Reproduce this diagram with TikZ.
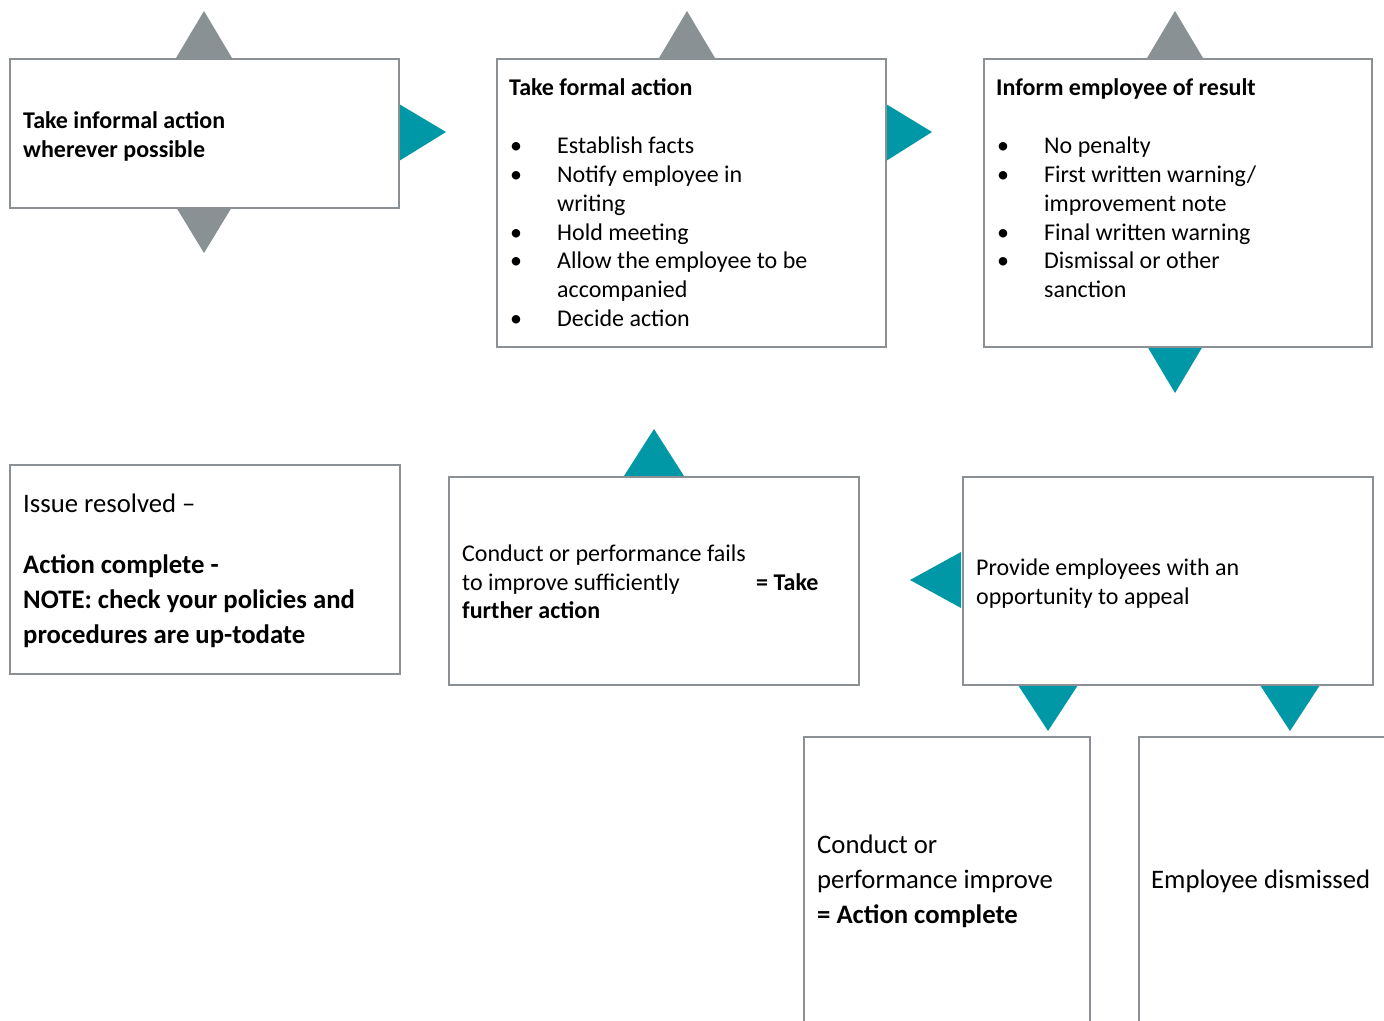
\documentclass[tikz,border=0pt]{standalone}
\usepackage{fontspec}
\setmainfont{Carlito}
\usetikzlibrary{calc}
\definecolor{boxgray}{RGB}{138,144,148}
\definecolor{trigray}{RGB}{137,145,148}
\definecolor{myteal}{RGB}{0,151,167}
\begin{document}
\begin{tikzpicture}[x=1pt,y=-1pt,
  box/.style={draw=boxgray, line width=1.6pt, fill=white, rectangle, inner sep=0pt, anchor=north west},
  txt/.style={anchor=base west, inner sep=0pt, font=\fontsize{24}{29}\selectfont},
  btxt/.style={txt, font=\fontsize{24}{29}\selectfont\bfseries},
  ltxt/.style={anchor=base west, inner sep=0pt, font=\fontsize{26.7}{35}\selectfont},
  lbtxt/.style={ltxt, font=\fontsize{26.7}{35}\selectfont\bfseries},
  gtri/.style={fill=trigray},
  ttri/.style={fill=myteal}]
\useasboundingbox (0,0) rectangle (1384,1020);
\clip (0,0) rectangle (1384,1020);
% triangles
\fill[gtri] (176,58) -- (232,58) -- (204,11) -- cycle;
\fill[gtri] (176,207) -- (232,207) -- (204,253) -- cycle;
\fill[ttri] (399,104) -- (399,161) -- (446,132) -- cycle;
\fill[gtri] (659,58) -- (715,58) -- (687,11) -- cycle;
\fill[ttri] (886,104) -- (886,161) -- (932,132) -- cycle;
\fill[gtri] (1147,58) -- (1203,58) -- (1175,11) -- cycle;
\fill[ttri] (1147,346) -- (1203,346) -- (1175,393) -- cycle;
\fill[ttri] (624,476) -- (684,476) -- (654,429) -- cycle;
\fill[ttri] (961,552) -- (961,608) -- (910,580) -- cycle;
\fill[ttri] (1018,685) -- (1078,685) -- (1048,731) -- cycle;
\fill[ttri] (1260,685) -- (1320,685) -- (1290,731) -- cycle;
% boxes
\node[box, minimum width=389pt, minimum height=149pt] (b1) at (9,58) {};
\node[box, minimum width=389pt, minimum height=288pt] (b2) at (496,58) {};
\node[box, minimum width=388pt, minimum height=288pt] (b3) at (983,58) {};
\node[box, minimum width=390pt, minimum height=209pt] (b4) at (9,464) {};
\node[box, minimum width=410pt, minimum height=208pt] (b5) at (448,476) {};
\node[box, minimum width=410pt, minimum height=208pt] (b6) at (962,476) {};
\node[box, minimum width=286pt, minimum height=320pt] (b7) at (803,736) {};
\node[box, minimum width=280pt, minimum height=320pt] (b8) at (1138,736) {};
% box 1
\node[btxt] (t1a) at (23,128) {Take informal action};
\node[btxt] (t1b) at (23,157) {wherever possible};
% box 2
\node[btxt] (t2) at (509,95) {Take formal action};
\foreach \y/\t [count=\i] in {153/{Establish facts},182/{Notify employee in},240/{Hold meeting},268/{Allow the employee to be},326/{Decide action}}{
  \node[txt] (b2dot\i) at (510,\y) {\textbullet};
  \node[txt] (b2it\i) at (557,\y) {\t};
}
\node[txt] (b2w) at (557,211) {writing};
\node[txt] (b2a) at (557,297) {accompanied};
% box 3
\node[btxt] (t3) at (996,95) {Inform employee of result};
\foreach \y/\t [count=\i] in {153/{No penalty},182/{First written warning/},240/{Final written warning},268/{Dismissal or other}}{
  \node[txt] (b3dot\i) at (997,\y) {\textbullet};
  \node[txt] (b3it\i) at (1044,\y) {\t};
}
\node[txt] (b3i) at (1044,211) {improvement note};
\node[txt] (b3s) at (1044,297) {sanction};
% box 4
\node[ltxt] (t4a) at (23,512) {Issue resolved –};
\node[lbtxt] (t4b) at (23,573) {Action complete -};
\node[lbtxt] (t4c) at (23,608) {NOTE: check your policies and};
\node[lbtxt] (t4d) at (23,643) {procedures are up-todate};
% box 5
\node[txt] (t5a) at (462,561) {Conduct or performance fails};
\node[txt] (t5b) at (462,590) {to improve sufficiently};
\node[btxt] (t5c) at (756,590) {= Take};
\node[btxt] (t5d) at (462,618) {further action};
% box 6
\node[txt] (t6a) at (976,575) {Provide employees with an};
\node[txt] (t6b) at (976,604) {opportunity to appeal};
% box 7
\node[ltxt] (t7a) at (817,853) {Conduct or};
\node[ltxt] (t7b) at (817,888) {performance improve};
\node[lbtxt] (t7c) at (817,923) {= Action complete};
% box 8
\node[ltxt] (t8) at (1151,888) {Employee dismissed};
\end{tikzpicture}
\end{document}
